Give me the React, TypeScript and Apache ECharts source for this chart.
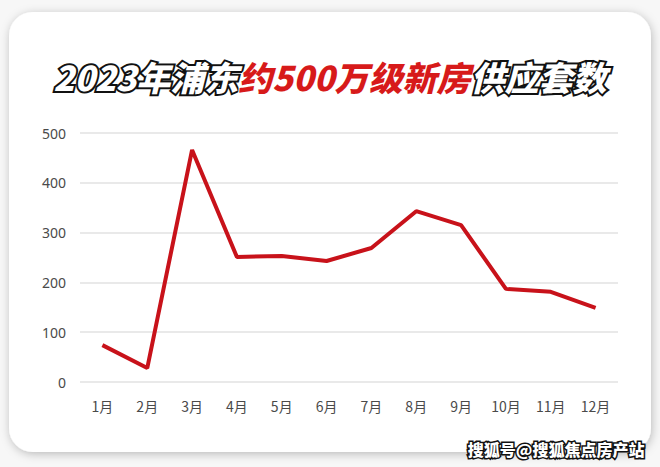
import React, { useEffect, useRef } from "react";
import * as echarts from "echarts";

const months = ["1月", "2月", "3月", "4月", "5月", "6月", "7月", "8月", "9月", "10月", "11月", "12月"];
const supply = [74, 28, 466, 251, 253, 243, 269, 343, 315, 187, 181, 149];
const yTicks = [0, 100, 200, 300, 400, 500];

export default function App() {
  const ref = useRef<HTMLDivElement>(null);
  useEffect(() => {
    if (!ref.current) return;
    const chart = echarts.init(ref.current, undefined, { renderer: "svg" });
    const base = {
      fontSize: 34,
      fontWeight: 900,
      fontStyle: "italic",
      fontFamily: "Noto Sans CJK SC",
      textShadowColor: "#000000",
      textShadowOffsetX: 2,
      textShadowOffsetY: 3,
      textShadowBlur: 0,
    };
    chart.setOption({
      animation: false,
      backgroundColor: "#f7f7f7",
      graphic: [
        {
          type: "rect",
          z: -10,
          shape: { x: 9, y: 12, width: 642, height: 440, r: 24 },
          style: { fill: "#ffffff", shadowBlur: 10, shadowColor: "rgba(0,0,0,0.25)", shadowOffsetX: 1, shadowOffsetY: 2 },
          silent: true,
        },
        {
          type: "text",
          right: 14,
          top: 439,
          style: {
            text: "搜狐号@搜狐焦点房产站",
            fontSize: 16,
            fontWeight: 900,
            fontFamily: "Noto Sans CJK SC",
            fill: "#ffffff",
            stroke: "#111111",
            lineWidth: 3,
          },
        },
      ],
      title: {
        left: "center",
        top: 54,
        text: "{a|2023年浦东}{b|约500万级新房}{a|供应套数}",
        textStyle: {
          rich: {
            a: { ...base, color: "#ffffff", textBorderColor: "#111111", textBorderWidth: 4 },
            b: { ...base, color: "#d71a1a", textBorderColor: "#ffffff", textBorderWidth: 2 },
          },
        },
      },
      grid: { left: 80, right: 42, top: 133, bottom: 85 },
      xAxis: {
        type: "category",
        data: months,
        boundaryGap: true,
        axisLine: { show: false },
        axisTick: { show: false },
        axisLabel: { color: "#4a4a4a", fontSize: 14, margin: 17, fontFamily: "Noto Sans CJK SC" },
      },
      yAxis: {
        type: "value",
        min: yTicks[0],
        max: yTicks[yTicks.length - 1],
        interval: 100,
        axisLine: { show: false },
        axisTick: { show: false },
        axisLabel: { color: "#4a4a4a", fontSize: 14, margin: 14, fontFamily: "Noto Sans, sans-serif" },
        splitLine: { lineStyle: { color: "#e2e2e2", width: 1.5 } },
      },
      series: [
        {
          type: "line",
          data: supply,
          symbol: "none",
          lineStyle: { color: "#c8121a", width: 4 },
        },
      ],
    });
    return () => chart.dispose();
  }, []);
  return <div ref={ref} style={{ position: "fixed", left: 0, top: 0, width: 660, height: 467 }} />;
}
